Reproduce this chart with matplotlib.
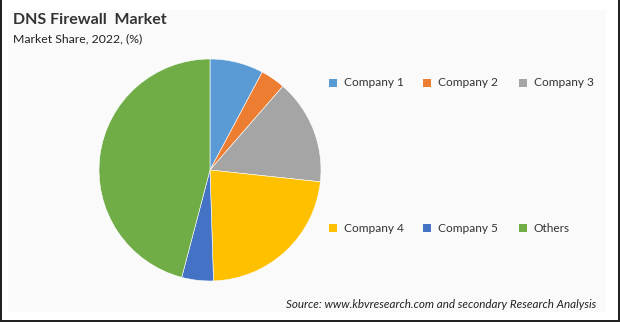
import matplotlib.pyplot as plt
from matplotlib.patches import Rectangle

companies = ['Company 1', 'Company 2', 'Company 3', 'Company 4', 'Company 5', 'Others']
shares = [7.8, 3.6, 15.3, 22.8, 4.6, 45.9]
colors = ['#5B9BD5', '#ED7D31', '#A5A5A5', '#FFC000', '#4472C4', '#70AD47']

plt.rcParams['font.family'] = ['Lato', 'DejaVu Sans']

W, H = 620, 322
fig = plt.figure(figsize=(W / 100, H / 100), dpi=100)
fig.patch.set_facecolor('white')

# light panel behind the chart
fig.patches.append(Rectangle((8 / W, 10 / H), 598 / W, 302 / H, transform=fig.transFigure,
                             facecolor='#FAFAFA', edgecolor='none', zorder=-5))
# dark frame on left, right and bottom
for x0, y0, w, h in [(0, 0, 2, H), (W - 2, 0, 2, H), (0, 0, W, 2)]:
    fig.patches.append(Rectangle((x0 / W, y0 / H), w / W, h / H, transform=fig.transFigure,
                                 facecolor='#222222', edgecolor='none', zorder=5))

# pie, centre (210, 170) px, radius 111 px
cx, cy, r = 210, 170, 111
ax = fig.add_axes([(cx - r) / W, (H - cy - r) / H, 2 * r / W, 2 * r / H])
ax.set_zorder(2)
ax.pie(shares, colors=colors, startangle=90, counterclock=False, radius=1,
       wedgeprops=dict(edgecolor='white', linewidth=0.4))
ax.set_xlim(-1, 1)
ax.set_ylim(-1, 1)
ax.set_aspect('equal')
ax.axis('off')

fig.text(13 / W, 1 - 20 / H, 'DNS Firewall  Market', fontsize=11.5, fontweight='bold',
         color='#333333', va='center', ha='left')
fig.text(13 / W, 1 - 39 / H, 'Market Share, 2022, (%)', fontsize=8.8, color='#222222',
         va='center', ha='left')

# legend laid out in two rows of three
col_x = [333, 427, 523]
row_y = [83, 228]
for i, (name, col) in enumerate(zip(companies, colors)):
    x = col_x[i % 3]
    y = row_y[i // 3]
    fig.patches.append(Rectangle(((x - 4) / W, 1 - (y + 4) / H), 8 / W, 8 / H,
                                 transform=fig.transFigure, facecolor=col, edgecolor='none',
                                 zorder=3))
    fig.text((x + 11) / W, 1 - y / H, name, fontsize=8.6, color='#333333',
             va='center', ha='left')

fig.text(596 / W, 1 - 305 / H,
         'Source: www.kbvresearch.com and secondary Research Analysis',
         fontsize=8.4, style='italic', color='#222222', va='center', ha='right')

fig.savefig('out.png', dpi=100)
